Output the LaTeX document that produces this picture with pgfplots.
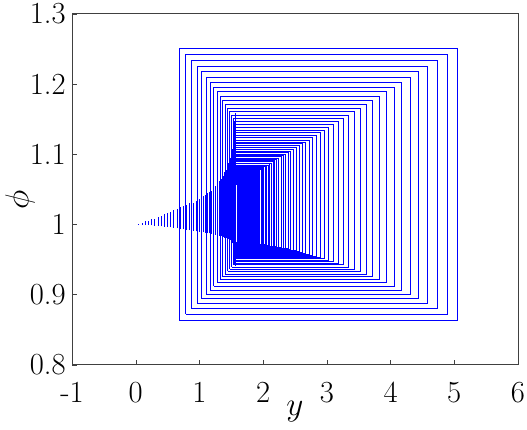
\documentclass[border=0pt]{standalone}
\usepackage{pgfplots}
\pgfplotsset{compat=1.18}
% nested closed orbits: left / right / bottom / top
\def\rects{}
\foreach \a/\b/\lo/\hi in {
  0.686/5.050/0.863/1.251, 0.788/4.886/0.872/1.242, 0.880/4.731/0.880/1.233,
  0.964/4.582/0.887/1.225, 1.040/4.441/0.894/1.217, 1.109/4.306/0.900/1.209,
  1.171/4.177/0.906/1.202, 1.228/4.054/0.912/1.195, 1.280/3.938/0.917/1.189,
  1.327/3.826/0.921/1.182, 1.369/3.720/0.925/1.177, 1.408/3.619/0.929/1.171,
  1.443/3.523/0.933/1.165, 1.475/3.431/0.936/1.160, 1.504/3.344/0.939/1.155,
  1.530/3.260/0.942/1.151, 1.554/3.181/0.944/1.146, 1.570/3.105/0.947/1.142,
  1.570/3.033/0.949/1.138, 1.570/2.964/0.951/1.134, 1.570/2.899/0.953/1.131,
  1.570/2.836/0.954/1.127, 1.570/2.777/0.956/1.124, 1.570/2.720/0.957/1.120,
  1.570/2.666/0.959/1.117, 1.570/2.614/0.960/1.115, 1.570/2.565/0.961/1.112,
  1.570/2.519/0.962/1.109, 1.570/2.474/0.963/1.107, 1.570/2.432/0.964/1.104,
  1.570/2.391/0.965/1.102, 1.570/2.352/0.965/1.100, 1.570/2.316/0.966/1.098,
  1.570/2.281/0.967/1.096, 1.570/2.247/0.967/1.094, 1.570/2.216/0.968/1.092,
  1.570/2.185/0.968/1.091, 1.570/2.156/0.969/1.089, 1.570/2.129/0.969/1.087,
  1.570/2.102/0.970/1.086, 1.570/2.077/0.970/1.084, 1.570/2.053/0.970/1.083,
  1.570/2.031/0.971/1.082, 1.570/2.009/0.971/1.081, 1.570/1.988/0.971/1.079,
  1.570/1.969/0.971/1.078, 1.570/1.950/0.971/1.077, 1.570/1.932/0.972/1.076,
  1.570/1.915/0.972/1.075, 1.570/1.899/0.972/1.074, 1.570/1.884/0.972/1.074,
  1.570/1.869/0.972/1.073, 1.570/1.855/0.972/1.072, 1.570/1.841/0.973/1.071,
  1.570/1.829/0.973/1.070, 1.570/1.816/0.973/1.070, 1.570/1.805/0.973/1.069,
  1.570/1.794/0.973/1.069, 1.570/1.783/0.973/1.068, 1.570/1.773/0.973/1.067,
  1.570/1.764/0.973/1.067, 1.570/1.755/0.973/1.066, 1.570/1.746/0.973/1.066,
  1.570/1.738/0.973/1.065, 1.570/1.730/0.973/1.065, 1.570/1.722/0.973/1.065,
  1.570/1.708/0.974/1.064, 1.570/1.696/0.974/1.063, 1.570/1.685/0.974/1.063,
  1.570/1.674/0.974/1.062, 1.570/1.664/0.974/1.062, 1.570/1.655/0.974/1.061,
  1.570/1.647/0.974/1.061, 1.570/1.640/0.974/1.060, 1.570/1.633/0.974/1.060,
  1.570/1.627/0.974/1.059, 1.570/1.621/0.974/1.059, 1.570/1.615/0.974/1.058,
  1.570/1.610/0.974/1.058, 1.570/1.605/0.974/1.057, 1.570/1.600/0.974/1.057}{
  \xdef\rects{\rects (\a,\lo) (\a,\hi) (\b,\hi) (\b,\lo) (\a,\lo) (nan,nan)}
}
% fan of short orbits near phi = 1: position / bottom / top
\def\fan{}
\foreach \x/\lo/\hi in {
  0.05/0.9998/1.001, 0.10/0.9995/1.002, 0.15/0.9993/1.004, 0.20/0.999/1.005,
  0.25/0.9985/1.007, 0.30/0.998/1.008, 0.35/0.9975/1.010, 0.40/0.997/1.012,
  0.45/0.9965/1.014, 0.50/0.996/1.016, 0.55/0.9955/1.018, 0.60/0.995/1.020,
  0.65/0.994/1.022, 0.70/0.9935/1.024, 0.75/0.993/1.026, 0.80/0.992/1.028,
  0.85/0.9915/1.030, 0.90/0.991/1.031, 0.95/0.990/1.033, 1.00/0.9895/1.036,
  1.04/0.989/1.038, 1.07/0.9885/1.040, 1.10/0.988/1.042, 1.13/0.9875/1.044,
  1.16/0.987/1.046, 1.19/0.9865/1.048, 1.22/0.986/1.051, 1.25/0.985/1.054,
  1.28/0.9845/1.057, 1.31/0.984/1.061, 1.34/0.983/1.065, 1.37/0.982/1.069,
  1.40/0.981/1.074, 1.42/0.9805/1.078, 1.44/0.980/1.082, 1.46/0.979/1.087,
  1.48/0.978/1.092, 1.49/0.977/1.095, 1.50/0.976/1.098, 1.51/0.975/1.102,
  1.52/0.973/1.107, 1.53/0.971/1.112, 1.54/0.968/1.118, 1.545/0.965/1.124,
  1.55/0.961/1.130, 1.555/0.956/1.137, 1.56/0.951/1.144, 1.565/0.946/1.151,
  1.57/0.941/1.158}{
  \xdef\fan{\fan (\x,\lo) (\x,\hi) (nan,nan)}
}
\begin{document}
\begin{tikzpicture}
\useasboundingbox (-54pt,-48.75pt) rectangle (341.25pt,273.5pt);
\begin{axis}[
  at={(0,0)}, anchor=south west,
  scale only axis, width=334.5pt, height=263.25pt,
  xmin=-1, xmax=6, ymin=0.8, ymax=1.3,
  xtick={-1,0,1,2,3,4,5,6}, xticklabels={-1,0,1,2,3,4,5,6},
  ytick={0.8,0.9,1,1.1,1.2,1.3}, yticklabels={0.8,0.9,1,1.1,1.2,1.3},
  tick align=inside, tick pos=left,
  major tick length=3.75pt,
  axis line style={black!75}, tick style={black!75},
  ticklabel style={font=\fontsize{23}{27}\selectfont, inner sep=0pt},
  xticklabel style={yshift=-13pt},
  yticklabel style={xshift=-4.5pt},
  xlabel={$y$}, ylabel={$\phi$},
  label style={font=\fontsize{23}{27}\selectfont},
  xlabel style={at={(axis description cs:0.5,0)}, anchor=north, yshift=-27pt, inner sep=0pt},
  ylabel style={at={(axis description cs:0,0.47)}, anchor=center, yshift=39pt, inner sep=0pt},
  unbounded coords=jump,
]
\edef\temp{\noexpand\addplot[blue, line width=0.75pt] coordinates {\rects};}
\temp
\edef\temp{\noexpand\addplot[blue, line width=0.75pt] coordinates {\fan};}
\temp
\end{axis}
\end{tikzpicture}
\end{document}
